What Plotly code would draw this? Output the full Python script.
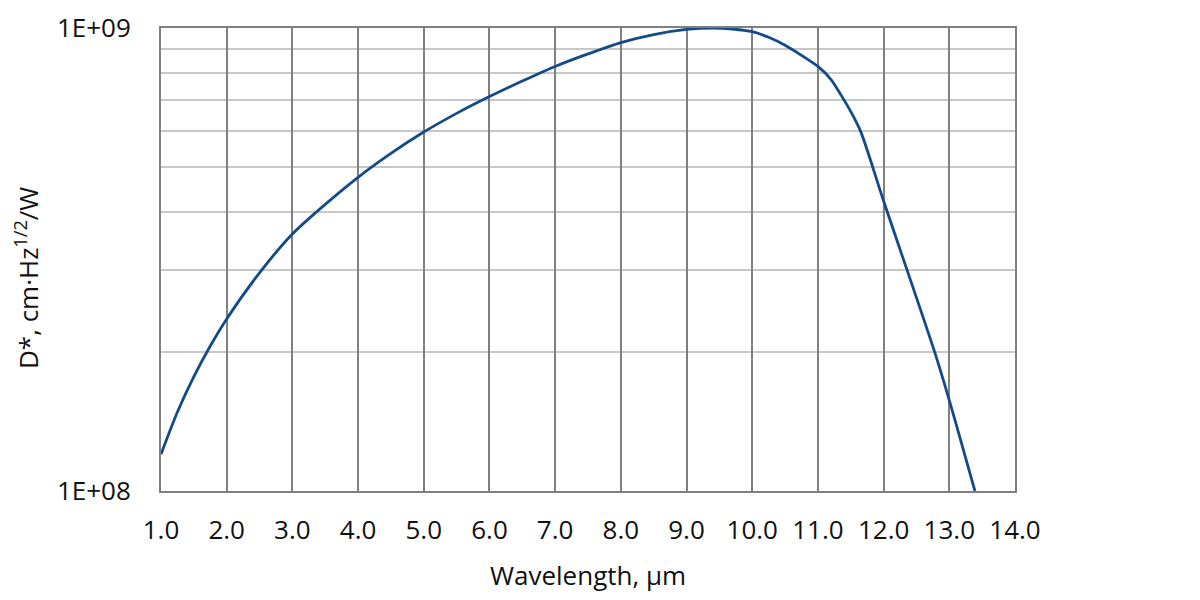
import plotly.graph_objects as go

wavelength_um = [1.0, 1.25, 1.5, 1.75, 2.0, 2.5, 3.0, 3.5, 4.0, 4.5, 5.0, 5.5, 6.0,
                 6.5, 7.0, 7.5, 8.0, 8.5, 9.0, 9.4, 9.7, 10.0, 10.25, 10.5, 10.75, 11.0, 11.2,
                 11.35, 11.5, 11.65, 12.0, 12.78, 13.0, 13.39]
d_star = [1.20e8, 1.481e8, 1.766e8, 2.057e8, 2.353e8, 2.96e8, 3.59e8, 4.16e8, 4.76e8,
          5.36e8, 5.96e8, 6.54e8, 7.11e8, 7.68e8, 8.26e8, 8.79e8, 9.30e8, 9.68e8, 9.93e8,
          1.0e9, 9.95e8, 9.82e8, 9.55e8, 9.18e8, 8.73e8, 8.26e8, 7.74e8, 7.17e8, 6.60e8, 5.98e8,
          4.23e8, 1.99e8, 1.57e8, 1.0e8]

x_ticks = [1.0 + i for i in range(14)]
y_ticks = [1e8, 1e9]
y_tick_labels = ["1E+08", "1E+09"]
y_minor = [2e8, 3e8, 4e8, 5e8, 6e8, 7e8, 8e8, 9e8]

FONT = "Open Sans, Noto Sans, sans-serif"
FS = 26

fig = go.Figure()
fig.add_trace(go.Scatter(
    x=wavelength_um, y=d_star, mode="lines",
    line=dict(color="#124a8a", width=2.8, shape="spline", smoothing=0.8),
    showlegend=False, hoverinfo="x+y",
))

fig.update_layout(
    width=1200, height=600,
    margin=dict(l=153, r=193, t=20, b=117, autoexpand=False),
    paper_bgcolor="white", plot_bgcolor="white",
    font=dict(family=FONT, size=FS, color="#111111"),
    xaxis=dict(
        range=[1, 14], tickvals=x_ticks, ticktext=[f"{v:.1f}" for v in x_ticks],
        showgrid=True, gridcolor="#808080", gridwidth=2,
        showline=True, linecolor="#808080", linewidth=2, mirror=True,
        ticks="outside", ticklen=15, tickcolor="rgba(0,0,0,0)",
        zeroline=False, automargin=False,
    ),
    yaxis=dict(
        type="log", range=[8, 9], tickvals=y_ticks, ticktext=y_tick_labels,
        showgrid=True, gridcolor="#808080", gridwidth=2,
        showline=True, linecolor="#808080", linewidth=2, mirror=True,
        ticks="outside", ticklen=23, tickcolor="rgba(0,0,0,0)",
        minor=dict(tickvals=y_minor, showgrid=True, gridcolor="#c8c8c8", gridwidth=2, ticks=""),
        zeroline=False, automargin=False,
    ),
    annotations=[
        dict(text="Wavelength, µm", xref="paper", yref="paper", x=0.5, y=0,
             xanchor="center", yanchor="middle", yshift=-84, showarrow=False,
             font=dict(family=FONT, size=FS, color="#111111")),
        dict(text="D*, cm·Hz<sup>1/2</sup>/W", xref="paper", yref="paper", x=0, y=0.46,
             xanchor="center", yanchor="middle", xshift=-134, textangle=-90, showarrow=False,
             font=dict(family=FONT, size=FS, color="#111111")),
    ],
)

fig.write_html("out.html")
